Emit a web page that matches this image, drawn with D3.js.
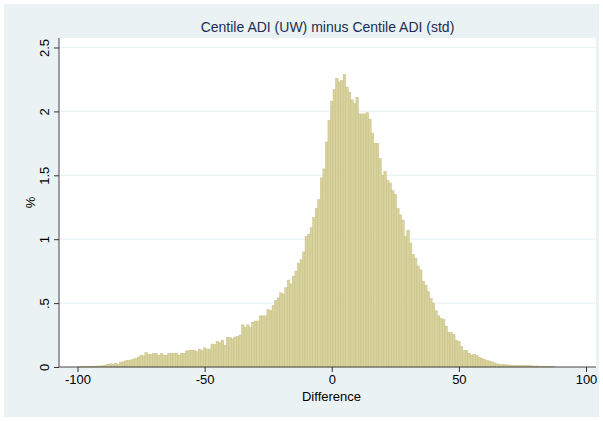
<!DOCTYPE html>
<html lang="en">
<head>
  <meta charset="UTF-8">
  <title>Centile ADI difference</title>
  <script src="https://d3js.org/d3.v7.min.js"></script>
  <style>
    body {
      margin: 0;
      background-color: #ffffff;
      font-family: "Liberation Sans", Arial, sans-serif;
    }
  </style>
</head>
<body>
  <svg id="chart" width="603" height="421"></svg>

  <script>
    // histogram: bins of width 1, first bin centred on -99
    const binStart = -99.5;
    const binWidth = 1;
    const percents = [
      0.003, 0.004, 0.005, 0.005, 0.006, 0.006, 0.007, 0.008, 0.008, 0.010,
      0.012, 0.022, 0.024, 0.023, 0.030, 0.020, 0.038, 0.040, 0.048, 0.052,
      0.055, 0.062, 0.066, 0.078, 0.090, 0.088, 0.112, 0.096, 0.097, 0.104,
      0.107, 0.092, 0.107, 0.093, 0.092, 0.107, 0.106, 0.108, 0.106, 0.093,
      0.107, 0.107, 0.125, 0.130, 0.132, 0.130, 0.120, 0.140, 0.130, 0.150,
      0.140, 0.140, 0.180, 0.175, 0.200, 0.190, 0.210, 0.170, 0.230, 0.230,
      0.220, 0.235, 0.240, 0.250, 0.330, 0.310, 0.330, 0.310, 0.350, 0.360,
      0.360, 0.400, 0.400, 0.400, 0.450, 0.440, 0.480, 0.520, 0.540, 0.580,
      0.570, 0.620, 0.680, 0.650, 0.710, 0.750, 0.810, 0.840, 0.900, 1.020,
      1.040, 1.090, 1.170, 1.240, 1.310, 1.480, 1.550, 1.760, 1.930,
      2.080, 2.170, 2.260, 2.230, 2.240, 2.290, 2.190, 2.150, 2.090, 2.060,
      2.110, 1.980, 1.980, 1.980, 1.990, 1.940, 1.830, 1.750, 1.750, 1.630,
      1.500, 1.530, 1.460, 1.440, 1.380, 1.350, 1.240, 1.190, 1.150, 1.020,
      1.070, 0.970, 0.880, 0.850, 0.790, 0.760, 0.670, 0.640, 0.590, 0.535,
      0.500, 0.440, 0.400, 0.380, 0.370, 0.320, 0.270, 0.270, 0.255, 0.210,
      0.200, 0.160, 0.130, 0.130, 0.107, 0.093, 0.100, 0.090, 0.075, 0.068,
      0.060, 0.050, 0.047, 0.040, 0.033, 0.025, 0.022, 0.018, 0.018, 0.017,
      0.015, 0.013, 0.013, 0.012, 0.012, 0.011, 0.011, 0.010, 0.010, 0.008,
      0.007, 0.008, 0.006, 0.007, 0.005, 0.006, 0.004, 0.005, 0, 0,
      0, 0, 0, 0, 0, 0, 0, 0, 0, 0
    ];
    const xTicks = [-100, -50, 0, 50, 100];
    const xTickLabels = ["-100", "-50", "0", "50", "100"];
    const yTicks = [0, 0.5, 1, 1.5, 2, 2.5];
    const yTickLabels = ["0", ".5", "1", "1.5", "2", "2.5"];
    const title = "Centile ADI (UW) minus Centile ADI (std)";
    const xTitle = "Difference";
    const yTitle = "%";

    const svg = d3.select("#chart");

    // outer graph region
    svg.append("rect")
      .attr("x", 4).attr("y", 4)
      .attr("width", 595).attr("height", 413)
      .attr("fill", "#eaf2f3");

    // plot region
    const plot = { left: 59, right: 596, top: 38, bottom: 367 };
    svg.append("rect")
      .attr("x", plot.left).attr("y", plot.top)
      .attr("width", plot.right - plot.left)
      .attr("height", plot.bottom - plot.top)
      .attr("fill", "#ffffff");

    const x = d3.scaleLinear().domain([-100, 100]).range([77.5, 586]);
    const y = d3.scaleLinear().domain([0, 2.5]).range([367, 47.5]);

    // grid lines
    svg.selectAll(".grid")
      .data(yTicks.filter(d => d > 0))
      .enter()
      .append("line")
      .attr("x1", plot.left).attr("x2", plot.right)
      .attr("y1", d => y(d)).attr("y2", d => y(d))
      .attr("stroke", "#eaf2f3")
      .attr("stroke-width", 1.2);

    // bars
    const bins = percents.map((v, i) => ({
      x0: binStart + i * binWidth,
      x1: binStart + (i + 1) * binWidth,
      value: v
    })).filter(d => d.value > 0);

    svg.append("g")
      .selectAll("rect")
      .data(bins)
      .enter()
      .append("rect")
      .attr("x", d => x(d.x0))
      .attr("y", d => y(d.value))
      .attr("width", d => x(d.x1) - x(d.x0))
      .attr("height", d => y(0) - y(d.value))
      .attr("fill", "#d8d29d")
      .attr("stroke", "#c7bf85")
      .attr("stroke-width", 0.5);

    // x axis
    const xAxis = svg.append("g")
      .attr("transform", `translate(0, ${plot.bottom})`)
      .call(d3.axisBottom(x).tickValues(xTicks).tickSize(5).tickPadding(3)
        .tickFormat((d, i) => xTickLabels[i]));
    xAxis.select(".domain")
      .attr("d", `M${plot.left},0H${plot.right}`)
      .attr("stroke", "#444");
    xAxis.selectAll(".tick line").attr("stroke", "#333");
    xAxis.selectAll("text")
      .attr("font-size", 13)
      .attr("font-family", "Liberation Sans, Arial, sans-serif")
      .attr("fill", "#000");

    // y axis
    const yAxis = svg.append("g")
      .attr("transform", `translate(${plot.left}, 0)`)
      .call(d3.axisLeft(y).tickValues(yTicks).tickSize(5).tickFormat((d, i) => yTickLabels[i]));
    yAxis.select(".domain")
      .attr("d", `M0,${plot.top}V${plot.bottom}`)
      .attr("stroke", "#444");
    yAxis.selectAll(".tick line").attr("stroke", "#333");
    yAxis.selectAll("text")
      .attr("font-size", 13)
      .attr("font-family", "Liberation Sans, Arial, sans-serif")
      .attr("fill", "#000")
      .attr("x", 0).attr("y", 0)
      .attr("dy", 0)
      .attr("text-anchor", "middle")
      .attr("transform", "translate(-10, 0) rotate(-90)");

    // titles
    svg.append("text")
      .attr("x", (plot.left + plot.right) / 2)
      .attr("y", 32)
      .attr("text-anchor", "middle")
      .attr("font-size", 14)
      .attr("fill", "#1e2d4f")
      .text(title);

    svg.append("text")
      .attr("x", (plot.left + plot.right) / 2 + 4)
      .attr("y", 401)
      .attr("text-anchor", "middle")
      .attr("font-size", 13)
      .attr("fill", "#000")
      .text(xTitle);

    svg.append("text")
      .attr("transform", `translate(35, ${(plot.top + plot.bottom) / 2}) rotate(-90)`)
      .attr("text-anchor", "middle")
      .attr("font-size", 13)
      .attr("fill", "#000")
      .text(yTitle);
  </script>
</body>
</html>
